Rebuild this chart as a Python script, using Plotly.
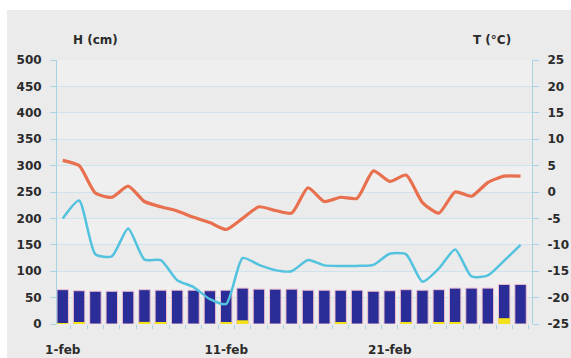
import plotly.graph_objects as go

# Daily series, 1 February onwards
days = [f"{d}-feb" for d in range(1, 30)]

snow_height = [65, 63, 62, 62, 62, 65, 64, 64, 64, 63, 64, 68, 66, 66, 66,
               64, 64, 64, 64, 62, 63, 65, 64, 65, 68, 68, 68, 75, 75]
new_snow = [1, 3, 0, 0, 0, 4, 2, 0, 0, 0, 2, 7, 0, 0, 0,
            0, 0, 2, 0, 0, 0, 3, 0, 3, 3, 0, 0, 11, 0]
t_max = [6.0, 5.0, -0.2, -1.0, 1.1, -1.8, -2.8, -3.6, -4.8, -5.8, -7.1, -5.0, -2.8, -3.5, -4.0,
         0.8, -1.8, -1.0, -1.2, 4.0, 2.0, 3.2, -2.0, -4.0, 0.0, -0.8, 1.8, 3.0, 3.0]
t_min = [-5.0, -1.6, -11.8, -12.2, -6.9, -12.8, -12.9, -16.7, -18.0, -20.3, -21.2, -12.5, -13.8, -14.8, -15.0,
         -12.9, -13.9, -14.0, -14.0, -13.8, -11.7, -11.8, -17.0, -14.5, -10.9, -16.0, -15.8, -13.0, -10.0]

h_ticks = list(range(0, 501, 50))
t_ticks = list(range(-25, 26, 5))
t_ticktext = [str(v) for v in t_ticks]
x_labels = ["1-feb", "11-feb", "21-feb"]

ink = "#2b2b2b"
grid = "#cfe3ee"
axis_line = "#a9d2e4"
tick_font = dict(family="DejaVu Sans", size=12, color=ink, weight="bold")

fig = go.Figure()

fig.add_trace(go.Bar(
    x=days, y=snow_height, name="H",
    marker=dict(color="#2a2c97", line=dict(color="#f1c0cf", width=1)),
    width=0.7,
))
fig.add_trace(go.Bar(
    x=days, y=new_snow, name="HN",
    marker=dict(color="#f3e21a", line=dict(width=0)),
    width=0.7,
))
fig.add_trace(go.Scatter(
    x=days, y=t_max, yaxis="y2", mode="lines", name="Tmax",
    line=dict(color="#e8704e", width=3.2, shape="spline", smoothing=0.6),
))
fig.add_trace(go.Scatter(
    x=days, y=t_min, yaxis="y2", mode="lines", name="Tmin",
    line=dict(color="#52c2df", width=2.5, shape="spline", smoothing=0.6),
))

# boundary tick marks along the date axis
fig.add_trace(go.Scatter(x=[0, 28], y=[None, None], xaxis="x2", showlegend=False,
                         hoverinfo="skip"))

# gray card behind the chart
shapes = [dict(type="rect", xref="paper", yref="paper",
               x0=(7 - 57) / 475, x1=(580 - 57) / 475,
               y0=-40 / 264, y1=1 + 50 / 264,
               fillcolor="#ebebeb", line=dict(width=0), layer="below")]
# alternating bands in the plot area
for i, lo in enumerate(range(0, 500, 50)):
    if i % 2 == 1:
        shapes.append(dict(type="rect", xref="paper", yref="y",
                           x0=0, x1=1, y0=lo, y1=lo + 50,
                           fillcolor="#efefef", line=dict(width=0), layer="below"))

xr = [-0.35, 28.7]

fig.update_layout(
    width=571, height=358,
    margin=dict(l=57, r=39, t=60, b=34),
    paper_bgcolor="white",
    plot_bgcolor="#f5f5f5",
    barmode="overlay",
    showlegend=False,
    shapes=shapes,
    xaxis=dict(
        type="category", range=xr, automargin=False,
        tickvals=x_labels, ticktext=x_labels,
        ticks="", showgrid=False, zeroline=False, showline=False,
        tickfont=tick_font, ticklabelstandoff=17,
    ),
    xaxis2=dict(
        overlaying="x", range=xr, anchor="y", automargin=False,
        tick0=0.5, dtick=1, ticks="outside", ticklen=4, tickcolor=axis_line,
        showticklabels=False, showgrid=False, zeroline=False, showline=False,
        side="bottom",
    ),
    yaxis=dict(
        range=[0, 500], tickvals=h_ticks, automargin=False,
        showgrid=True, gridcolor=grid, gridwidth=1, zeroline=False,
        showline=True, linecolor=axis_line, linewidth=1,
        ticks="outside", ticklen=6, tickcolor=axis_line,
        tickfont=tick_font, ticklabelstandoff=6,
    ),
    yaxis2=dict(
        range=[-25, 25], tickvals=t_ticks, ticktext=t_ticktext, automargin=False,
        overlaying="y", side="right",
        showgrid=False, zeroline=False,
        showline=True, linecolor=axis_line, linewidth=1,
        ticks="outside", ticklen=6, tickcolor=axis_line,
        tickfont=tick_font, ticklabelstandoff=6,
    ),
    annotations=[
        dict(text="H (cm)", xref="paper", yref="paper", xanchor="center",
             x=(95 - 57) / 475, y=1 + 29 / 264, showarrow=False,
             font=dict(family="DejaVu Sans", size=12, color=ink, weight="bold")),
        dict(text="T (°C)", xref="paper", yref="paper", xanchor="center",
             x=(492 - 57) / 475, y=1 + 29 / 264, showarrow=False,
             font=dict(family="DejaVu Sans", size=12, color=ink, weight="bold")),
    ],
)

fig.write_html("out.html")
